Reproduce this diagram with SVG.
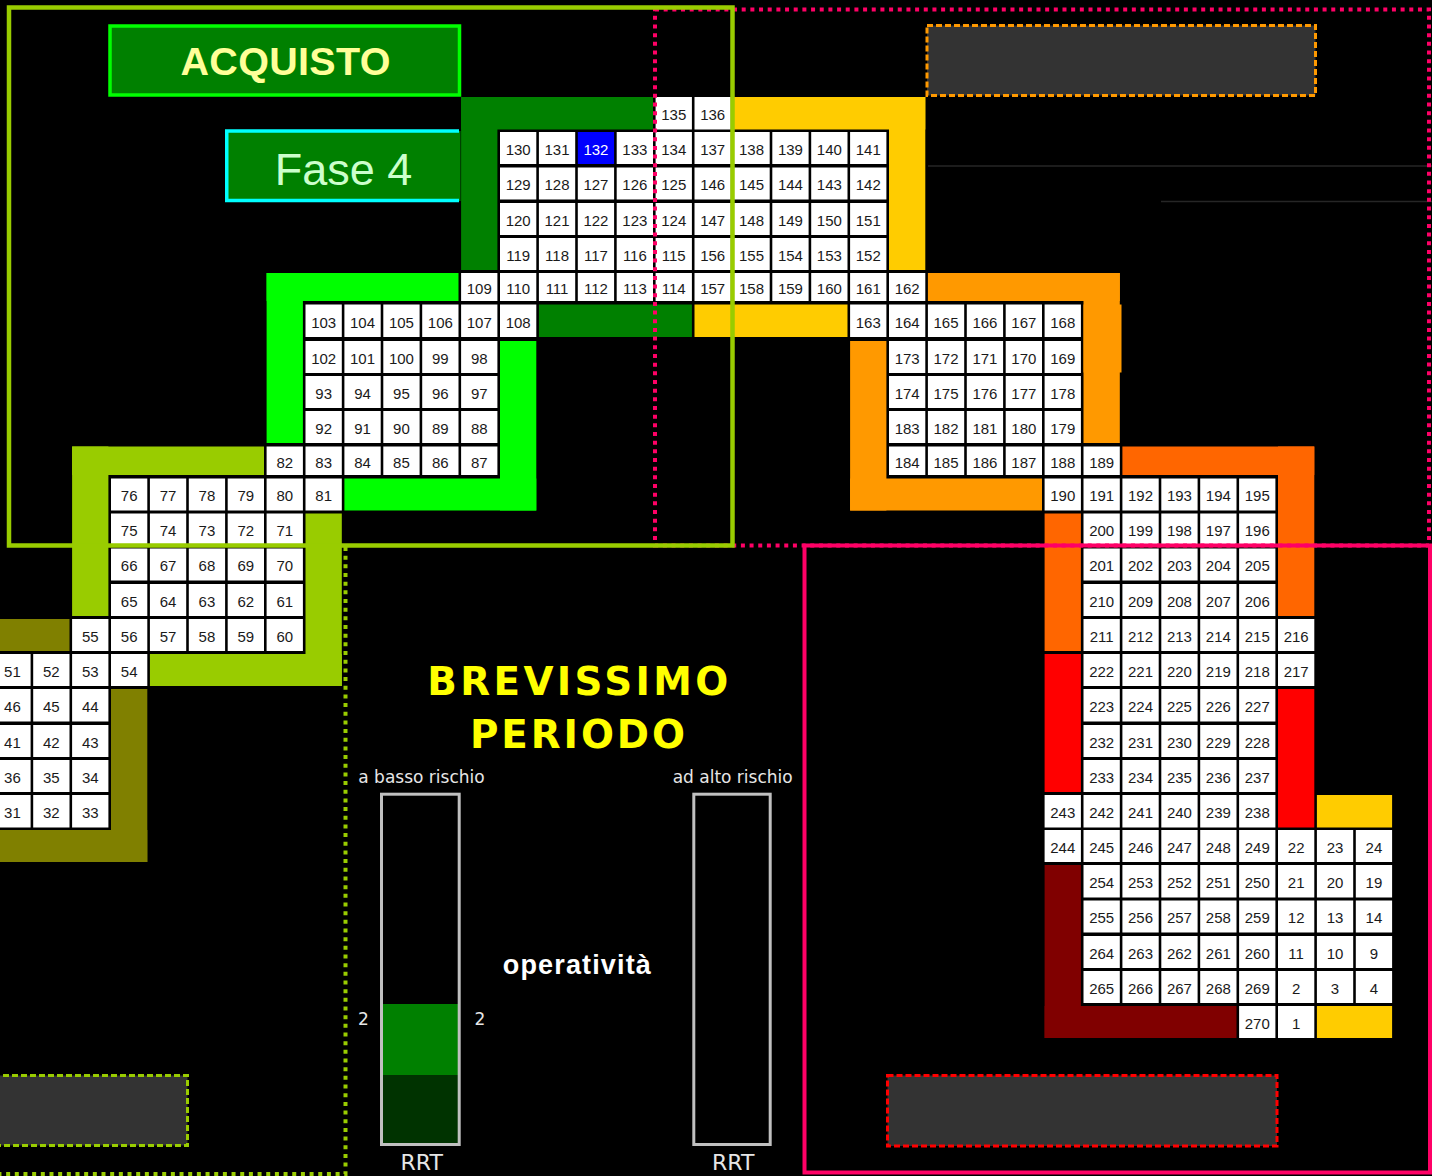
<svg xmlns="http://www.w3.org/2000/svg" width="1432" height="1176" viewBox="0 0 1432 1176">
<style>
.c rect{fill:#ffffff}
.c text{font-family:"Liberation Sans",Arial,sans-serif;font-size:15px;fill:#1a1a1a;text-anchor:middle}
.c.blue rect{fill:#0000ff}
.c.blue text{fill:#ffffff}
.lbl{font-family:"DejaVu Sans",Verdana,sans-serif;font-size:17px;fill:#e6e6e6}
.rrt{font-family:"DejaVu Sans",Verdana,sans-serif;font-size:22px;fill:#e6e6e6;text-anchor:middle}
.big{font-family:"Liberation Sans",Arial,sans-serif;font-weight:bold;text-anchor:middle}
.head{font-family:"DejaVu Sans",Verdana,sans-serif;font-weight:bold;text-anchor:middle;font-size:38.8px;fill:#FFFF00}
.dbox{fill:#333333;stroke-width:3;stroke-dasharray:6 3}
</style>
<rect x="0" y="0" width="1432" height="1176" fill="#000000"/>
<line x1="928" y1="166" x2="1432" y2="166" stroke="#262626" stroke-width="1.5"/>
<line x1="1161" y1="201.5" x2="1432" y2="201.5" stroke="#262626" stroke-width="1.5"/>

<g id="bands">
<g fill="#008000">
<rect x="461.1" y="97" width="191.9" height="32.5"/>
<rect x="461.1" y="97" width="36.3" height="173"/>
<rect x="538.9" y="304.5" width="153" height="32.5"/>
</g>
<g fill="#FFCC00">
<rect x="733.4" y="97" width="191.9" height="32.5"/>
<rect x="889" y="97" width="36.3" height="173"/>
<rect x="694.5" y="304.5" width="153" height="32.5"/>
<rect x="1316.9" y="795" width="75.2" height="32.5"/>
<rect x="1316.9" y="1006" width="75.2" height="32"/>
</g>
<g fill="#00FF00">
<rect x="266.6" y="273" width="191.9" height="28"/>
<rect x="266.6" y="273" width="36.3" height="170"/>
<rect x="500" y="341" width="36.3" height="169.5"/>
<rect x="344.4" y="478.5" width="191.9" height="32"/>
</g>
<g fill="#99CC00">
<rect x="72.1" y="446.5" width="191.9" height="28.5"/>
<rect x="72.1" y="446.5" width="36.3" height="169.5"/>
<rect x="305.5" y="513.5" width="36.3" height="172.5"/>
<rect x="149.9" y="654" width="191.9" height="32"/>
</g>
<g fill="#808000">
<rect x="0" y="619" width="69.5" height="32"/>
<rect x="111" y="689" width="36.3" height="173"/>
<rect x="0" y="830" width="147.3" height="32"/>
</g>
<g fill="#FF9900">
<rect x="927.9" y="273" width="191.9" height="28"/>
<rect x="1083.5" y="273" width="36.3" height="170"/>
<rect x="1083.5" y="304.5" width="38" height="68"/>
<rect x="850.1" y="341" width="36.3" height="169.5"/>
<rect x="850.1" y="478.5" width="191.9" height="32"/>
</g>
<g fill="#FF6600">
<rect x="1122.4" y="446.5" width="191.9" height="28.5"/>
<rect x="1278" y="446.5" width="36.3" height="169.5"/>
<rect x="1044.6" y="513.5" width="36.3" height="137.5"/>
</g>
<g fill="#FF0000">
<rect x="1044.6" y="654" width="36.3" height="138"/>
<rect x="1278" y="689" width="36.3" height="138.5"/>
</g>
<g fill="#800000">
<rect x="1044.6" y="865" width="36.3" height="173"/>
<rect x="1044.6" y="1006" width="191.9" height="32"/>
</g>
</g>

<g id="cells">
<g transform="translate(0,97)">
<g id="n135" class="c" transform="translate(655.6,0)"><rect width="36.3" height="32.5"/><text x="18.15" y="23.05">135</text></g>
<g id="n136" class="c" transform="translate(694.5,0)"><rect width="36.3" height="32.5"/><text x="18.15" y="23.05">136</text></g>
</g>
<g transform="translate(0,132)">
<g id="n130" class="c" transform="translate(500,0)"><rect width="36.3" height="32"/><text x="18.15" y="22.8">130</text></g>
<g id="n131" class="c" transform="translate(538.9,0)"><rect width="36.3" height="32"/><text x="18.15" y="22.8">131</text></g>
<g id="n132" class="c blue" transform="translate(577.8,0)"><rect width="36.3" height="32"/><text x="18.15" y="22.8">132</text></g>
<g id="n133" class="c" transform="translate(616.7,0)"><rect width="36.3" height="32"/><text x="18.15" y="22.8">133</text></g>
<g id="n134" class="c" transform="translate(655.6,0)"><rect width="36.3" height="32"/><text x="18.15" y="22.8">134</text></g>
<g id="n137" class="c" transform="translate(694.5,0)"><rect width="36.3" height="32"/><text x="18.15" y="22.8">137</text></g>
<g id="n138" class="c" transform="translate(733.4,0)"><rect width="36.3" height="32"/><text x="18.15" y="22.8">138</text></g>
<g id="n139" class="c" transform="translate(772.3,0)"><rect width="36.3" height="32"/><text x="18.15" y="22.8">139</text></g>
<g id="n140" class="c" transform="translate(811.2,0)"><rect width="36.3" height="32"/><text x="18.15" y="22.8">140</text></g>
<g id="n141" class="c" transform="translate(850.1,0)"><rect width="36.3" height="32"/><text x="18.15" y="22.8">141</text></g>
</g>
<g transform="translate(0,167.5)">
<g id="n129" class="c" transform="translate(500,0)"><rect width="36.3" height="32"/><text x="18.15" y="22.8">129</text></g>
<g id="n128" class="c" transform="translate(538.9,0)"><rect width="36.3" height="32"/><text x="18.15" y="22.8">128</text></g>
<g id="n127" class="c" transform="translate(577.8,0)"><rect width="36.3" height="32"/><text x="18.15" y="22.8">127</text></g>
<g id="n126" class="c" transform="translate(616.7,0)"><rect width="36.3" height="32"/><text x="18.15" y="22.8">126</text></g>
<g id="n125" class="c" transform="translate(655.6,0)"><rect width="36.3" height="32"/><text x="18.15" y="22.8">125</text></g>
<g id="n146" class="c" transform="translate(694.5,0)"><rect width="36.3" height="32"/><text x="18.15" y="22.8">146</text></g>
<g id="n145" class="c" transform="translate(733.4,0)"><rect width="36.3" height="32"/><text x="18.15" y="22.8">145</text></g>
<g id="n144" class="c" transform="translate(772.3,0)"><rect width="36.3" height="32"/><text x="18.15" y="22.8">144</text></g>
<g id="n143" class="c" transform="translate(811.2,0)"><rect width="36.3" height="32"/><text x="18.15" y="22.8">143</text></g>
<g id="n142" class="c" transform="translate(850.1,0)"><rect width="36.3" height="32"/><text x="18.15" y="22.8">142</text></g>
</g>
<g transform="translate(0,203)">
<g id="n120" class="c" transform="translate(500,0)"><rect width="36.3" height="32"/><text x="18.15" y="22.8">120</text></g>
<g id="n121" class="c" transform="translate(538.9,0)"><rect width="36.3" height="32"/><text x="18.15" y="22.8">121</text></g>
<g id="n122" class="c" transform="translate(577.8,0)"><rect width="36.3" height="32"/><text x="18.15" y="22.8">122</text></g>
<g id="n123" class="c" transform="translate(616.7,0)"><rect width="36.3" height="32"/><text x="18.15" y="22.8">123</text></g>
<g id="n124" class="c" transform="translate(655.6,0)"><rect width="36.3" height="32"/><text x="18.15" y="22.8">124</text></g>
<g id="n147" class="c" transform="translate(694.5,0)"><rect width="36.3" height="32"/><text x="18.15" y="22.8">147</text></g>
<g id="n148" class="c" transform="translate(733.4,0)"><rect width="36.3" height="32"/><text x="18.15" y="22.8">148</text></g>
<g id="n149" class="c" transform="translate(772.3,0)"><rect width="36.3" height="32"/><text x="18.15" y="22.8">149</text></g>
<g id="n150" class="c" transform="translate(811.2,0)"><rect width="36.3" height="32"/><text x="18.15" y="22.8">150</text></g>
<g id="n151" class="c" transform="translate(850.1,0)"><rect width="36.3" height="32"/><text x="18.15" y="22.8">151</text></g>
</g>
<g transform="translate(0,238)">
<g id="n119" class="c" transform="translate(500,0)"><rect width="36.3" height="32"/><text x="18.15" y="22.8">119</text></g>
<g id="n118" class="c" transform="translate(538.9,0)"><rect width="36.3" height="32"/><text x="18.15" y="22.8">118</text></g>
<g id="n117" class="c" transform="translate(577.8,0)"><rect width="36.3" height="32"/><text x="18.15" y="22.8">117</text></g>
<g id="n116" class="c" transform="translate(616.7,0)"><rect width="36.3" height="32"/><text x="18.15" y="22.8">116</text></g>
<g id="n115" class="c" transform="translate(655.6,0)"><rect width="36.3" height="32"/><text x="18.15" y="22.8">115</text></g>
<g id="n156" class="c" transform="translate(694.5,0)"><rect width="36.3" height="32"/><text x="18.15" y="22.8">156</text></g>
<g id="n155" class="c" transform="translate(733.4,0)"><rect width="36.3" height="32"/><text x="18.15" y="22.8">155</text></g>
<g id="n154" class="c" transform="translate(772.3,0)"><rect width="36.3" height="32"/><text x="18.15" y="22.8">154</text></g>
<g id="n153" class="c" transform="translate(811.2,0)"><rect width="36.3" height="32"/><text x="18.15" y="22.8">153</text></g>
<g id="n152" class="c" transform="translate(850.1,0)"><rect width="36.3" height="32"/><text x="18.15" y="22.8">152</text></g>
</g>
<g transform="translate(0,273)">
<g id="n109" class="c" transform="translate(461.1,0)"><rect width="36.3" height="28"/><text x="18.15" y="20.8">109</text></g>
<g id="n110" class="c" transform="translate(500,0)"><rect width="36.3" height="28"/><text x="18.15" y="20.8">110</text></g>
<g id="n111" class="c" transform="translate(538.9,0)"><rect width="36.3" height="28"/><text x="18.15" y="20.8">111</text></g>
<g id="n112" class="c" transform="translate(577.8,0)"><rect width="36.3" height="28"/><text x="18.15" y="20.8">112</text></g>
<g id="n113" class="c" transform="translate(616.7,0)"><rect width="36.3" height="28"/><text x="18.15" y="20.8">113</text></g>
<g id="n114" class="c" transform="translate(655.6,0)"><rect width="36.3" height="28"/><text x="18.15" y="20.8">114</text></g>
<g id="n157" class="c" transform="translate(694.5,0)"><rect width="36.3" height="28"/><text x="18.15" y="20.8">157</text></g>
<g id="n158" class="c" transform="translate(733.4,0)"><rect width="36.3" height="28"/><text x="18.15" y="20.8">158</text></g>
<g id="n159" class="c" transform="translate(772.3,0)"><rect width="36.3" height="28"/><text x="18.15" y="20.8">159</text></g>
<g id="n160" class="c" transform="translate(811.2,0)"><rect width="36.3" height="28"/><text x="18.15" y="20.8">160</text></g>
<g id="n161" class="c" transform="translate(850.1,0)"><rect width="36.3" height="28"/><text x="18.15" y="20.8">161</text></g>
<g id="n162" class="c" transform="translate(889,0)"><rect width="36.3" height="28"/><text x="18.15" y="20.8">162</text></g>
</g>
<g transform="translate(0,304.5)">
<g id="n103" class="c" transform="translate(305.5,0)"><rect width="36.3" height="32.5"/><text x="18.15" y="23.05">103</text></g>
<g id="n104" class="c" transform="translate(344.4,0)"><rect width="36.3" height="32.5"/><text x="18.15" y="23.05">104</text></g>
<g id="n105" class="c" transform="translate(383.3,0)"><rect width="36.3" height="32.5"/><text x="18.15" y="23.05">105</text></g>
<g id="n106" class="c" transform="translate(422.2,0)"><rect width="36.3" height="32.5"/><text x="18.15" y="23.05">106</text></g>
<g id="n107" class="c" transform="translate(461.1,0)"><rect width="36.3" height="32.5"/><text x="18.15" y="23.05">107</text></g>
<g id="n108" class="c" transform="translate(500,0)"><rect width="36.3" height="32.5"/><text x="18.15" y="23.05">108</text></g>
<g id="n163" class="c" transform="translate(850.1,0)"><rect width="36.3" height="32.5"/><text x="18.15" y="23.05">163</text></g>
<g id="n164" class="c" transform="translate(889,0)"><rect width="36.3" height="32.5"/><text x="18.15" y="23.05">164</text></g>
<g id="n165" class="c" transform="translate(927.9,0)"><rect width="36.3" height="32.5"/><text x="18.15" y="23.05">165</text></g>
<g id="n166" class="c" transform="translate(966.8,0)"><rect width="36.3" height="32.5"/><text x="18.15" y="23.05">166</text></g>
<g id="n167" class="c" transform="translate(1005.7,0)"><rect width="36.3" height="32.5"/><text x="18.15" y="23.05">167</text></g>
<g id="n168" class="c" transform="translate(1044.6,0)"><rect width="36.3" height="32.5"/><text x="18.15" y="23.05">168</text></g>
</g>
<g transform="translate(0,341)">
<g id="n102" class="c" transform="translate(305.5,0)"><rect width="36.3" height="32"/><text x="18.15" y="22.8">102</text></g>
<g id="n101" class="c" transform="translate(344.4,0)"><rect width="36.3" height="32"/><text x="18.15" y="22.8">101</text></g>
<g id="n100" class="c" transform="translate(383.3,0)"><rect width="36.3" height="32"/><text x="18.15" y="22.8">100</text></g>
<g id="n99" class="c" transform="translate(422.2,0)"><rect width="36.3" height="32"/><text x="18.15" y="22.8">99</text></g>
<g id="n98" class="c" transform="translate(461.1,0)"><rect width="36.3" height="32"/><text x="18.15" y="22.8">98</text></g>
<g id="n173" class="c" transform="translate(889,0)"><rect width="36.3" height="32"/><text x="18.15" y="22.8">173</text></g>
<g id="n172" class="c" transform="translate(927.9,0)"><rect width="36.3" height="32"/><text x="18.15" y="22.8">172</text></g>
<g id="n171" class="c" transform="translate(966.8,0)"><rect width="36.3" height="32"/><text x="18.15" y="22.8">171</text></g>
<g id="n170" class="c" transform="translate(1005.7,0)"><rect width="36.3" height="32"/><text x="18.15" y="22.8">170</text></g>
<g id="n169" class="c" transform="translate(1044.6,0)"><rect width="36.3" height="32"/><text x="18.15" y="22.8">169</text></g>
</g>
<g transform="translate(0,376)">
<g id="n93" class="c" transform="translate(305.5,0)"><rect width="36.3" height="32"/><text x="18.15" y="22.8">93</text></g>
<g id="n94" class="c" transform="translate(344.4,0)"><rect width="36.3" height="32"/><text x="18.15" y="22.8">94</text></g>
<g id="n95" class="c" transform="translate(383.3,0)"><rect width="36.3" height="32"/><text x="18.15" y="22.8">95</text></g>
<g id="n96" class="c" transform="translate(422.2,0)"><rect width="36.3" height="32"/><text x="18.15" y="22.8">96</text></g>
<g id="n97" class="c" transform="translate(461.1,0)"><rect width="36.3" height="32"/><text x="18.15" y="22.8">97</text></g>
<g id="n174" class="c" transform="translate(889,0)"><rect width="36.3" height="32"/><text x="18.15" y="22.8">174</text></g>
<g id="n175" class="c" transform="translate(927.9,0)"><rect width="36.3" height="32"/><text x="18.15" y="22.8">175</text></g>
<g id="n176" class="c" transform="translate(966.8,0)"><rect width="36.3" height="32"/><text x="18.15" y="22.8">176</text></g>
<g id="n177" class="c" transform="translate(1005.7,0)"><rect width="36.3" height="32"/><text x="18.15" y="22.8">177</text></g>
<g id="n178" class="c" transform="translate(1044.6,0)"><rect width="36.3" height="32"/><text x="18.15" y="22.8">178</text></g>
</g>
<g transform="translate(0,411)">
<g id="n92" class="c" transform="translate(305.5,0)"><rect width="36.3" height="32"/><text x="18.15" y="22.8">92</text></g>
<g id="n91" class="c" transform="translate(344.4,0)"><rect width="36.3" height="32"/><text x="18.15" y="22.8">91</text></g>
<g id="n90" class="c" transform="translate(383.3,0)"><rect width="36.3" height="32"/><text x="18.15" y="22.8">90</text></g>
<g id="n89" class="c" transform="translate(422.2,0)"><rect width="36.3" height="32"/><text x="18.15" y="22.8">89</text></g>
<g id="n88" class="c" transform="translate(461.1,0)"><rect width="36.3" height="32"/><text x="18.15" y="22.8">88</text></g>
<g id="n183" class="c" transform="translate(889,0)"><rect width="36.3" height="32"/><text x="18.15" y="22.8">183</text></g>
<g id="n182" class="c" transform="translate(927.9,0)"><rect width="36.3" height="32"/><text x="18.15" y="22.8">182</text></g>
<g id="n181" class="c" transform="translate(966.8,0)"><rect width="36.3" height="32"/><text x="18.15" y="22.8">181</text></g>
<g id="n180" class="c" transform="translate(1005.7,0)"><rect width="36.3" height="32"/><text x="18.15" y="22.8">180</text></g>
<g id="n179" class="c" transform="translate(1044.6,0)"><rect width="36.3" height="32"/><text x="18.15" y="22.8">179</text></g>
</g>
<g transform="translate(0,446.5)">
<g id="n82" class="c" transform="translate(266.6,0)"><rect width="36.3" height="28.5"/><text x="18.15" y="21.05">82</text></g>
<g id="n83" class="c" transform="translate(305.5,0)"><rect width="36.3" height="28.5"/><text x="18.15" y="21.05">83</text></g>
<g id="n84" class="c" transform="translate(344.4,0)"><rect width="36.3" height="28.5"/><text x="18.15" y="21.05">84</text></g>
<g id="n85" class="c" transform="translate(383.3,0)"><rect width="36.3" height="28.5"/><text x="18.15" y="21.05">85</text></g>
<g id="n86" class="c" transform="translate(422.2,0)"><rect width="36.3" height="28.5"/><text x="18.15" y="21.05">86</text></g>
<g id="n87" class="c" transform="translate(461.1,0)"><rect width="36.3" height="28.5"/><text x="18.15" y="21.05">87</text></g>
<g id="n184" class="c" transform="translate(889,0)"><rect width="36.3" height="28.5"/><text x="18.15" y="21.05">184</text></g>
<g id="n185" class="c" transform="translate(927.9,0)"><rect width="36.3" height="28.5"/><text x="18.15" y="21.05">185</text></g>
<g id="n186" class="c" transform="translate(966.8,0)"><rect width="36.3" height="28.5"/><text x="18.15" y="21.05">186</text></g>
<g id="n187" class="c" transform="translate(1005.7,0)"><rect width="36.3" height="28.5"/><text x="18.15" y="21.05">187</text></g>
<g id="n188" class="c" transform="translate(1044.6,0)"><rect width="36.3" height="28.5"/><text x="18.15" y="21.05">188</text></g>
<g id="n189" class="c" transform="translate(1083.5,0)"><rect width="36.3" height="28.5"/><text x="18.15" y="21.05">189</text></g>
</g>
<g transform="translate(0,478.5)">
<g id="n76" class="c" transform="translate(111,0)"><rect width="36.3" height="32"/><text x="18.15" y="22.8">76</text></g>
<g id="n77" class="c" transform="translate(149.9,0)"><rect width="36.3" height="32"/><text x="18.15" y="22.8">77</text></g>
<g id="n78" class="c" transform="translate(188.8,0)"><rect width="36.3" height="32"/><text x="18.15" y="22.8">78</text></g>
<g id="n79" class="c" transform="translate(227.7,0)"><rect width="36.3" height="32"/><text x="18.15" y="22.8">79</text></g>
<g id="n80" class="c" transform="translate(266.6,0)"><rect width="36.3" height="32"/><text x="18.15" y="22.8">80</text></g>
<g id="n81" class="c" transform="translate(305.5,0)"><rect width="36.3" height="32"/><text x="18.15" y="22.8">81</text></g>
<g id="n190" class="c" transform="translate(1044.6,0)"><rect width="36.3" height="32"/><text x="18.15" y="22.8">190</text></g>
<g id="n191" class="c" transform="translate(1083.5,0)"><rect width="36.3" height="32"/><text x="18.15" y="22.8">191</text></g>
<g id="n192" class="c" transform="translate(1122.4,0)"><rect width="36.3" height="32"/><text x="18.15" y="22.8">192</text></g>
<g id="n193" class="c" transform="translate(1161.3,0)"><rect width="36.3" height="32"/><text x="18.15" y="22.8">193</text></g>
<g id="n194" class="c" transform="translate(1200.2,0)"><rect width="36.3" height="32"/><text x="18.15" y="22.8">194</text></g>
<g id="n195" class="c" transform="translate(1239.1,0)"><rect width="36.3" height="32"/><text x="18.15" y="22.8">195</text></g>
</g>
<g transform="translate(0,513.5)">
<g id="n75" class="c" transform="translate(111,0)"><rect width="36.3" height="32"/><text x="18.15" y="22.8">75</text></g>
<g id="n74" class="c" transform="translate(149.9,0)"><rect width="36.3" height="32"/><text x="18.15" y="22.8">74</text></g>
<g id="n73" class="c" transform="translate(188.8,0)"><rect width="36.3" height="32"/><text x="18.15" y="22.8">73</text></g>
<g id="n72" class="c" transform="translate(227.7,0)"><rect width="36.3" height="32"/><text x="18.15" y="22.8">72</text></g>
<g id="n71" class="c" transform="translate(266.6,0)"><rect width="36.3" height="32"/><text x="18.15" y="22.8">71</text></g>
<g id="n200" class="c" transform="translate(1083.5,0)"><rect width="36.3" height="32"/><text x="18.15" y="22.8">200</text></g>
<g id="n199" class="c" transform="translate(1122.4,0)"><rect width="36.3" height="32"/><text x="18.15" y="22.8">199</text></g>
<g id="n198" class="c" transform="translate(1161.3,0)"><rect width="36.3" height="32"/><text x="18.15" y="22.8">198</text></g>
<g id="n197" class="c" transform="translate(1200.2,0)"><rect width="36.3" height="32"/><text x="18.15" y="22.8">197</text></g>
<g id="n196" class="c" transform="translate(1239.1,0)"><rect width="36.3" height="32"/><text x="18.15" y="22.8">196</text></g>
</g>
<g transform="translate(0,548.5)">
<g id="n66" class="c" transform="translate(111,0)"><rect width="36.3" height="32"/><text x="18.15" y="22.8">66</text></g>
<g id="n67" class="c" transform="translate(149.9,0)"><rect width="36.3" height="32"/><text x="18.15" y="22.8">67</text></g>
<g id="n68" class="c" transform="translate(188.8,0)"><rect width="36.3" height="32"/><text x="18.15" y="22.8">68</text></g>
<g id="n69" class="c" transform="translate(227.7,0)"><rect width="36.3" height="32"/><text x="18.15" y="22.8">69</text></g>
<g id="n70" class="c" transform="translate(266.6,0)"><rect width="36.3" height="32"/><text x="18.15" y="22.8">70</text></g>
<g id="n201" class="c" transform="translate(1083.5,0)"><rect width="36.3" height="32"/><text x="18.15" y="22.8">201</text></g>
<g id="n202" class="c" transform="translate(1122.4,0)"><rect width="36.3" height="32"/><text x="18.15" y="22.8">202</text></g>
<g id="n203" class="c" transform="translate(1161.3,0)"><rect width="36.3" height="32"/><text x="18.15" y="22.8">203</text></g>
<g id="n204" class="c" transform="translate(1200.2,0)"><rect width="36.3" height="32"/><text x="18.15" y="22.8">204</text></g>
<g id="n205" class="c" transform="translate(1239.1,0)"><rect width="36.3" height="32"/><text x="18.15" y="22.8">205</text></g>
</g>
<g transform="translate(0,584)">
<g id="n65" class="c" transform="translate(111,0)"><rect width="36.3" height="32"/><text x="18.15" y="22.8">65</text></g>
<g id="n64" class="c" transform="translate(149.9,0)"><rect width="36.3" height="32"/><text x="18.15" y="22.8">64</text></g>
<g id="n63" class="c" transform="translate(188.8,0)"><rect width="36.3" height="32"/><text x="18.15" y="22.8">63</text></g>
<g id="n62" class="c" transform="translate(227.7,0)"><rect width="36.3" height="32"/><text x="18.15" y="22.8">62</text></g>
<g id="n61" class="c" transform="translate(266.6,0)"><rect width="36.3" height="32"/><text x="18.15" y="22.8">61</text></g>
<g id="n210" class="c" transform="translate(1083.5,0)"><rect width="36.3" height="32"/><text x="18.15" y="22.8">210</text></g>
<g id="n209" class="c" transform="translate(1122.4,0)"><rect width="36.3" height="32"/><text x="18.15" y="22.8">209</text></g>
<g id="n208" class="c" transform="translate(1161.3,0)"><rect width="36.3" height="32"/><text x="18.15" y="22.8">208</text></g>
<g id="n207" class="c" transform="translate(1200.2,0)"><rect width="36.3" height="32"/><text x="18.15" y="22.8">207</text></g>
<g id="n206" class="c" transform="translate(1239.1,0)"><rect width="36.3" height="32"/><text x="18.15" y="22.8">206</text></g>
</g>
<g transform="translate(0,619)">
<g id="n55" class="c" transform="translate(72.1,0)"><rect width="36.3" height="32"/><text x="18.15" y="22.8">55</text></g>
<g id="n56" class="c" transform="translate(111,0)"><rect width="36.3" height="32"/><text x="18.15" y="22.8">56</text></g>
<g id="n57" class="c" transform="translate(149.9,0)"><rect width="36.3" height="32"/><text x="18.15" y="22.8">57</text></g>
<g id="n58" class="c" transform="translate(188.8,0)"><rect width="36.3" height="32"/><text x="18.15" y="22.8">58</text></g>
<g id="n59" class="c" transform="translate(227.7,0)"><rect width="36.3" height="32"/><text x="18.15" y="22.8">59</text></g>
<g id="n60" class="c" transform="translate(266.6,0)"><rect width="36.3" height="32"/><text x="18.15" y="22.8">60</text></g>
<g id="n211" class="c" transform="translate(1083.5,0)"><rect width="36.3" height="32"/><text x="18.15" y="22.8">211</text></g>
<g id="n212" class="c" transform="translate(1122.4,0)"><rect width="36.3" height="32"/><text x="18.15" y="22.8">212</text></g>
<g id="n213" class="c" transform="translate(1161.3,0)"><rect width="36.3" height="32"/><text x="18.15" y="22.8">213</text></g>
<g id="n214" class="c" transform="translate(1200.2,0)"><rect width="36.3" height="32"/><text x="18.15" y="22.8">214</text></g>
<g id="n215" class="c" transform="translate(1239.1,0)"><rect width="36.3" height="32"/><text x="18.15" y="22.8">215</text></g>
<g id="n216" class="c" transform="translate(1278,0)"><rect width="36.3" height="32"/><text x="18.15" y="22.8">216</text></g>
</g>
<g transform="translate(0,654)">
<g id="n51" class="c" transform="translate(-5.7,0)"><rect width="36.3" height="32"/><text x="18.15" y="22.8">51</text></g>
<g id="n52" class="c" transform="translate(33.2,0)"><rect width="36.3" height="32"/><text x="18.15" y="22.8">52</text></g>
<g id="n53" class="c" transform="translate(72.1,0)"><rect width="36.3" height="32"/><text x="18.15" y="22.8">53</text></g>
<g id="n54" class="c" transform="translate(111,0)"><rect width="36.3" height="32"/><text x="18.15" y="22.8">54</text></g>
<g id="n222" class="c" transform="translate(1083.5,0)"><rect width="36.3" height="32"/><text x="18.15" y="22.8">222</text></g>
<g id="n221" class="c" transform="translate(1122.4,0)"><rect width="36.3" height="32"/><text x="18.15" y="22.8">221</text></g>
<g id="n220" class="c" transform="translate(1161.3,0)"><rect width="36.3" height="32"/><text x="18.15" y="22.8">220</text></g>
<g id="n219" class="c" transform="translate(1200.2,0)"><rect width="36.3" height="32"/><text x="18.15" y="22.8">219</text></g>
<g id="n218" class="c" transform="translate(1239.1,0)"><rect width="36.3" height="32"/><text x="18.15" y="22.8">218</text></g>
<g id="n217" class="c" transform="translate(1278,0)"><rect width="36.3" height="32"/><text x="18.15" y="22.8">217</text></g>
</g>
<g transform="translate(0,689)">
<g id="n46" class="c" transform="translate(-5.7,0)"><rect width="36.3" height="32.5"/><text x="18.15" y="23.05">46</text></g>
<g id="n45" class="c" transform="translate(33.2,0)"><rect width="36.3" height="32.5"/><text x="18.15" y="23.05">45</text></g>
<g id="n44" class="c" transform="translate(72.1,0)"><rect width="36.3" height="32.5"/><text x="18.15" y="23.05">44</text></g>
<g id="n223" class="c" transform="translate(1083.5,0)"><rect width="36.3" height="32.5"/><text x="18.15" y="23.05">223</text></g>
<g id="n224" class="c" transform="translate(1122.4,0)"><rect width="36.3" height="32.5"/><text x="18.15" y="23.05">224</text></g>
<g id="n225" class="c" transform="translate(1161.3,0)"><rect width="36.3" height="32.5"/><text x="18.15" y="23.05">225</text></g>
<g id="n226" class="c" transform="translate(1200.2,0)"><rect width="36.3" height="32.5"/><text x="18.15" y="23.05">226</text></g>
<g id="n227" class="c" transform="translate(1239.1,0)"><rect width="36.3" height="32.5"/><text x="18.15" y="23.05">227</text></g>
</g>
<g transform="translate(0,725)">
<g id="n41" class="c" transform="translate(-5.7,0)"><rect width="36.3" height="32"/><text x="18.15" y="22.8">41</text></g>
<g id="n42" class="c" transform="translate(33.2,0)"><rect width="36.3" height="32"/><text x="18.15" y="22.8">42</text></g>
<g id="n43" class="c" transform="translate(72.1,0)"><rect width="36.3" height="32"/><text x="18.15" y="22.8">43</text></g>
<g id="n232" class="c" transform="translate(1083.5,0)"><rect width="36.3" height="32"/><text x="18.15" y="22.8">232</text></g>
<g id="n231" class="c" transform="translate(1122.4,0)"><rect width="36.3" height="32"/><text x="18.15" y="22.8">231</text></g>
<g id="n230" class="c" transform="translate(1161.3,0)"><rect width="36.3" height="32"/><text x="18.15" y="22.8">230</text></g>
<g id="n229" class="c" transform="translate(1200.2,0)"><rect width="36.3" height="32"/><text x="18.15" y="22.8">229</text></g>
<g id="n228" class="c" transform="translate(1239.1,0)"><rect width="36.3" height="32"/><text x="18.15" y="22.8">228</text></g>
</g>
<g transform="translate(0,760)">
<g id="n36" class="c" transform="translate(-5.7,0)"><rect width="36.3" height="32"/><text x="18.15" y="22.8">36</text></g>
<g id="n35" class="c" transform="translate(33.2,0)"><rect width="36.3" height="32"/><text x="18.15" y="22.8">35</text></g>
<g id="n34" class="c" transform="translate(72.1,0)"><rect width="36.3" height="32"/><text x="18.15" y="22.8">34</text></g>
<g id="n233" class="c" transform="translate(1083.5,0)"><rect width="36.3" height="32"/><text x="18.15" y="22.8">233</text></g>
<g id="n234" class="c" transform="translate(1122.4,0)"><rect width="36.3" height="32"/><text x="18.15" y="22.8">234</text></g>
<g id="n235" class="c" transform="translate(1161.3,0)"><rect width="36.3" height="32"/><text x="18.15" y="22.8">235</text></g>
<g id="n236" class="c" transform="translate(1200.2,0)"><rect width="36.3" height="32"/><text x="18.15" y="22.8">236</text></g>
<g id="n237" class="c" transform="translate(1239.1,0)"><rect width="36.3" height="32"/><text x="18.15" y="22.8">237</text></g>
</g>
<g transform="translate(0,795)">
<g id="n31" class="c" transform="translate(-5.7,0)"><rect width="36.3" height="32.5"/><text x="18.15" y="23.05">31</text></g>
<g id="n32" class="c" transform="translate(33.2,0)"><rect width="36.3" height="32.5"/><text x="18.15" y="23.05">32</text></g>
<g id="n33" class="c" transform="translate(72.1,0)"><rect width="36.3" height="32.5"/><text x="18.15" y="23.05">33</text></g>
<g id="n243" class="c" transform="translate(1044.6,0)"><rect width="36.3" height="32.5"/><text x="18.15" y="23.05">243</text></g>
<g id="n242" class="c" transform="translate(1083.5,0)"><rect width="36.3" height="32.5"/><text x="18.15" y="23.05">242</text></g>
<g id="n241" class="c" transform="translate(1122.4,0)"><rect width="36.3" height="32.5"/><text x="18.15" y="23.05">241</text></g>
<g id="n240" class="c" transform="translate(1161.3,0)"><rect width="36.3" height="32.5"/><text x="18.15" y="23.05">240</text></g>
<g id="n239" class="c" transform="translate(1200.2,0)"><rect width="36.3" height="32.5"/><text x="18.15" y="23.05">239</text></g>
<g id="n238" class="c" transform="translate(1239.1,0)"><rect width="36.3" height="32.5"/><text x="18.15" y="23.05">238</text></g>
</g>
<g transform="translate(0,830)">
<g id="n244" class="c" transform="translate(1044.6,0)"><rect width="36.3" height="32"/><text x="18.15" y="22.8">244</text></g>
<g id="n245" class="c" transform="translate(1083.5,0)"><rect width="36.3" height="32"/><text x="18.15" y="22.8">245</text></g>
<g id="n246" class="c" transform="translate(1122.4,0)"><rect width="36.3" height="32"/><text x="18.15" y="22.8">246</text></g>
<g id="n247" class="c" transform="translate(1161.3,0)"><rect width="36.3" height="32"/><text x="18.15" y="22.8">247</text></g>
<g id="n248" class="c" transform="translate(1200.2,0)"><rect width="36.3" height="32"/><text x="18.15" y="22.8">248</text></g>
<g id="n249" class="c" transform="translate(1239.1,0)"><rect width="36.3" height="32"/><text x="18.15" y="22.8">249</text></g>
<g id="n22" class="c" transform="translate(1278,0)"><rect width="36.3" height="32"/><text x="18.15" y="22.8">22</text></g>
<g id="n23" class="c" transform="translate(1316.9,0)"><rect width="36.3" height="32"/><text x="18.15" y="22.8">23</text></g>
<g id="n24" class="c" transform="translate(1355.8,0)"><rect width="36.3" height="32"/><text x="18.15" y="22.8">24</text></g>
</g>
<g transform="translate(0,865)">
<g id="n254" class="c" transform="translate(1083.5,0)"><rect width="36.3" height="32.5"/><text x="18.15" y="23.05">254</text></g>
<g id="n253" class="c" transform="translate(1122.4,0)"><rect width="36.3" height="32.5"/><text x="18.15" y="23.05">253</text></g>
<g id="n252" class="c" transform="translate(1161.3,0)"><rect width="36.3" height="32.5"/><text x="18.15" y="23.05">252</text></g>
<g id="n251" class="c" transform="translate(1200.2,0)"><rect width="36.3" height="32.5"/><text x="18.15" y="23.05">251</text></g>
<g id="n250" class="c" transform="translate(1239.1,0)"><rect width="36.3" height="32.5"/><text x="18.15" y="23.05">250</text></g>
<g id="n21" class="c" transform="translate(1278,0)"><rect width="36.3" height="32.5"/><text x="18.15" y="23.05">21</text></g>
<g id="n20" class="c" transform="translate(1316.9,0)"><rect width="36.3" height="32.5"/><text x="18.15" y="23.05">20</text></g>
<g id="n19" class="c" transform="translate(1355.8,0)"><rect width="36.3" height="32.5"/><text x="18.15" y="23.05">19</text></g>
</g>
<g transform="translate(0,900.5)">
<g id="n255" class="c" transform="translate(1083.5,0)"><rect width="36.3" height="32"/><text x="18.15" y="22.8">255</text></g>
<g id="n256" class="c" transform="translate(1122.4,0)"><rect width="36.3" height="32"/><text x="18.15" y="22.8">256</text></g>
<g id="n257" class="c" transform="translate(1161.3,0)"><rect width="36.3" height="32"/><text x="18.15" y="22.8">257</text></g>
<g id="n258" class="c" transform="translate(1200.2,0)"><rect width="36.3" height="32"/><text x="18.15" y="22.8">258</text></g>
<g id="n259" class="c" transform="translate(1239.1,0)"><rect width="36.3" height="32"/><text x="18.15" y="22.8">259</text></g>
<g id="n12" class="c" transform="translate(1278,0)"><rect width="36.3" height="32"/><text x="18.15" y="22.8">12</text></g>
<g id="n13" class="c" transform="translate(1316.9,0)"><rect width="36.3" height="32"/><text x="18.15" y="22.8">13</text></g>
<g id="n14" class="c" transform="translate(1355.8,0)"><rect width="36.3" height="32"/><text x="18.15" y="22.8">14</text></g>
</g>
<g transform="translate(0,936)">
<g id="n264" class="c" transform="translate(1083.5,0)"><rect width="36.3" height="32"/><text x="18.15" y="22.8">264</text></g>
<g id="n263" class="c" transform="translate(1122.4,0)"><rect width="36.3" height="32"/><text x="18.15" y="22.8">263</text></g>
<g id="n262" class="c" transform="translate(1161.3,0)"><rect width="36.3" height="32"/><text x="18.15" y="22.8">262</text></g>
<g id="n261" class="c" transform="translate(1200.2,0)"><rect width="36.3" height="32"/><text x="18.15" y="22.8">261</text></g>
<g id="n260" class="c" transform="translate(1239.1,0)"><rect width="36.3" height="32"/><text x="18.15" y="22.8">260</text></g>
<g id="n11" class="c" transform="translate(1278,0)"><rect width="36.3" height="32"/><text x="18.15" y="22.8">11</text></g>
<g id="n10" class="c" transform="translate(1316.9,0)"><rect width="36.3" height="32"/><text x="18.15" y="22.8">10</text></g>
<g id="n9" class="c" transform="translate(1355.8,0)"><rect width="36.3" height="32"/><text x="18.15" y="22.8">9</text></g>
</g>
<g transform="translate(0,971)">
<g id="n265" class="c" transform="translate(1083.5,0)"><rect width="36.3" height="32"/><text x="18.15" y="22.8">265</text></g>
<g id="n266" class="c" transform="translate(1122.4,0)"><rect width="36.3" height="32"/><text x="18.15" y="22.8">266</text></g>
<g id="n267" class="c" transform="translate(1161.3,0)"><rect width="36.3" height="32"/><text x="18.15" y="22.8">267</text></g>
<g id="n268" class="c" transform="translate(1200.2,0)"><rect width="36.3" height="32"/><text x="18.15" y="22.8">268</text></g>
<g id="n269" class="c" transform="translate(1239.1,0)"><rect width="36.3" height="32"/><text x="18.15" y="22.8">269</text></g>
<g id="n2" class="c" transform="translate(1278,0)"><rect width="36.3" height="32"/><text x="18.15" y="22.8">2</text></g>
<g id="n3" class="c" transform="translate(1316.9,0)"><rect width="36.3" height="32"/><text x="18.15" y="22.8">3</text></g>
<g id="n4" class="c" transform="translate(1355.8,0)"><rect width="36.3" height="32"/><text x="18.15" y="22.8">4</text></g>
</g>
<g transform="translate(0,1006)">
<g id="n270" class="c" transform="translate(1239.1,0)"><rect width="36.3" height="32"/><text x="18.15" y="22.8">270</text></g>
<g id="n1" class="c" transform="translate(1278,0)"><rect width="36.3" height="32"/><text x="18.15" y="22.8">1</text></g>
</g>
</g>

<g id="title-acquisto">
<rect x="110" y="26" width="349.5" height="69" fill="#008000" stroke="#00FF00" stroke-width="3.5"/>
<text class="big" x="285.5" y="75" font-size="39.5" fill="#FFFF99" textLength="210" lengthAdjust="spacing">ACQUISTO</text>
</g>
<g id="title-fase">
<rect x="226.5" y="131" width="234" height="70" fill="#008000"/>
<path d="M459,131 H226.75 V200.5 H459" fill="none" stroke="#00FFFF" stroke-width="3.5"/>
<text x="343.5" y="185" font-family="Liberation Sans, Arial, sans-serif" font-size="45" fill="#CCFFCC" text-anchor="middle">Fase 4</text>
</g>

<g id="placeholders">
<rect class="dbox" x="927" y="25.5" width="388.5" height="70" stroke="#FF9900"/>
<rect class="dbox" x="-6" y="1075.5" width="193.5" height="70" stroke="#99CC00"/>
<rect class="dbox" x="887.5" y="1075.5" width="389.5" height="70.5" stroke="#FF0000"/>
</g>

<g id="frames" fill="none">
<path d="M345.5,547 V1174 H-5" stroke="#99CC00" stroke-width="4" stroke-dasharray="4 4.67"/>
<rect x="655" y="9.5" width="774" height="536" stroke="#FF0066" stroke-width="4" stroke-dasharray="4 4.67"/>
<rect x="9" y="7.5" width="723.5" height="538" stroke="#99CC00" stroke-width="4.5"/>
<rect x="804.5" y="545.5" width="625.5" height="627" stroke="#FF0066" stroke-width="4"/>
</g>

<g id="periodo">
<text class="head" x="577.8" y="695" textLength="301" lengthAdjust="spacing">BREVISSIMO</text>
<text class="head" x="577.5" y="748.3" textLength="215" lengthAdjust="spacing">PERIODO</text>
</g>

<g id="bar-basso">
<text class="lbl" x="358.3" y="782.7">a basso rischio</text>
<rect x="383" y="1004" width="75" height="71" fill="#008000"/>
<rect x="383" y="1075" width="75" height="69" fill="#003300"/>
<rect x="381.5" y="794.2" width="77.7" height="350.3" fill="none" stroke="#C0C0C0" stroke-width="3"/>
<text class="lbl" x="363.5" y="1025" text-anchor="middle">2</text>
<text class="lbl" x="480" y="1025" text-anchor="middle">2</text>
<text class="rrt" x="421.7" y="1170">RRT</text>
</g>
<g id="bar-alto">
<text class="lbl" x="792.7" y="782.7" text-anchor="end">ad alto rischio</text>
<rect x="693.8" y="794.2" width="76.4" height="350.3" fill="none" stroke="#C0C0C0" stroke-width="3"/>
<text class="rrt" x="733.3" y="1170">RRT</text>
</g>
<g id="operativita">
<text class="big" x="576.8" y="974.3" font-size="27" fill="#ffffff" textLength="148" lengthAdjust="spacing">operatività</text>
</g>
</svg>
